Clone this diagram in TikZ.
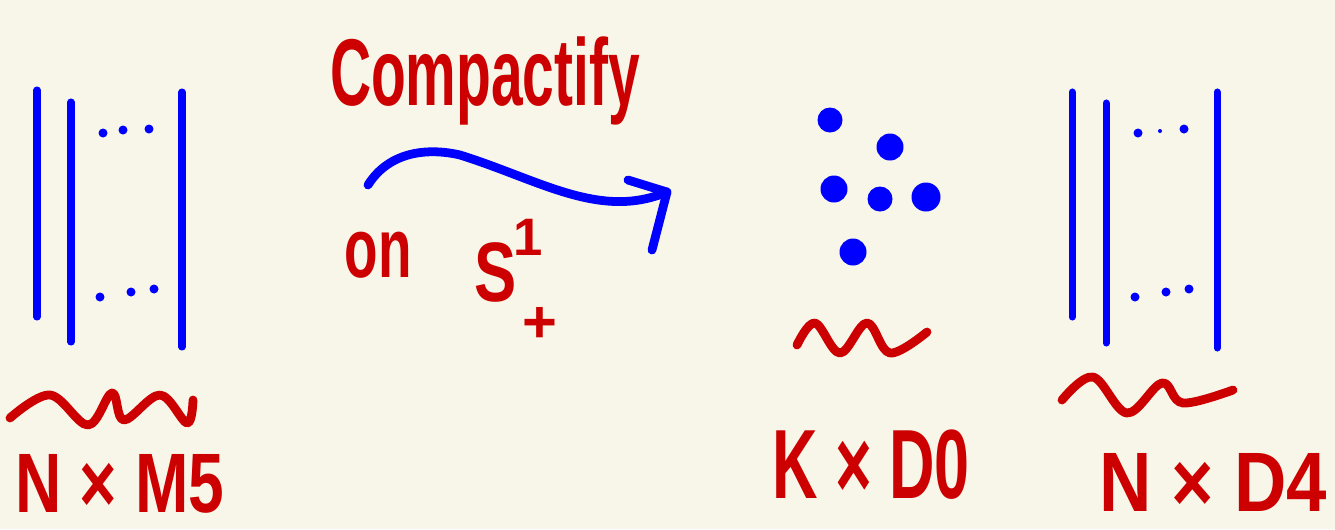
\documentclass[tikz,border=0pt]{standalone}
\usepackage{fontspec}
\usepackage{graphicx}
\newfontfamily\handfont{Liberation Sans}
\definecolor{paper}{RGB}{248,245,233}
\definecolor{inkred}{RGB}{204,0,0}
\definecolor{inkblue}{RGB}{0,0,255}

\begin{document}
\begin{tikzpicture}[
    x=0.02cm, y=-0.02cm,
    brane/.style={inkblue, line width=4pt, line cap=round},
    squiggle/.style={inkred, line width=5pt, line cap=round, line join=round},
    arrowline/.style={inkblue, line width=5pt, line cap=round, line join=round},
    lbl/.style={text=inkred, inner sep=0pt, font=\handfont\bfseries\fontsize{48}{52}\selectfont},
]
    % Paper
    \fill[paper] (0,0) rectangle (1335,529);
    \useasboundingbox (0,0) rectangle (1335,529);

    % N x M5 stack
    \draw[brane] (37,90) -- (37,317);
    \draw[brane] (71,102) -- (71,342);
    \draw[brane] (182,92) -- (182,347);
    \foreach \px/\py in {103/133, 123/130, 149/129, 100/297, 131/292, 154/289} {
        \fill[inkblue] (\px,\py) circle[radius=0.09cm];
    }
    \draw[squiggle] plot[smooth, tension=0.6] coordinates {(10,418) (50,395) (88,425) (112,393) (124,420) (160,395) (187,423) (193,400)};
    \node[lbl] (mfive) at (120,484) {\scalebox{0.76}[1]{N × M5}};

    % Compactify arrow
    \node[lbl, font=\handfont\bfseries\fontsize{54}{58}\selectfont] (title) at (485,81) {\scalebox{0.6}[1]{Compactify}};
    \coordinate (arrowstart) at (368,185);
    \coordinate (arrowtip) at (667,192);
    \coordinate (barbup) at (628,180);
    \coordinate (barbdown) at (652,250);
    \draw[arrowline] (arrowstart) .. controls (390,150) and (430,148) .. (460,155)
        .. controls (540,180) and (600,220) .. (arrowtip);
    \draw[arrowline] (barbup) -- (arrowtip) -- (barbdown);
    \node[lbl] (on) at (378,255) {\scalebox{0.65}[1]{on}};
    \node[lbl] (circ) at (496,272) {\scalebox{0.75}[1]{S}};
    \node[lbl, font=\handfont\bfseries\fontsize{30}{34}\selectfont] (circsup) at (528,237) {1};
    \node[lbl, font=\handfont\bfseries\fontsize{34}{38}\selectfont] (circsub) at (540,325) {+};

    % K x D0 cloud
    \foreach \px/\py/\r in {830/120/0.25cm, 890/147/0.27cm, 834/189/0.27cm, 880/199/0.25cm, 926/197/0.29cm, 853/252/0.27cm} {
        \fill[inkblue] (\px,\py) circle[radius=\r];
    }
    \draw[squiggle] plot[smooth, tension=0.6] coordinates {(797,345) (815,323) (840,353) (867,323) (890,353) (927,332)};
    \node[lbl, font=\handfont\bfseries\fontsize{56}{60}\selectfont] (dzero) at (871,465) {\scalebox{0.64}[1]{K × D0}};

    % N x D4 stack
    \draw[brane] (1072,92) -- (1072,317);
    \draw[brane] (1106,103) -- (1106,343);
    \draw[brane] (1217,92) -- (1217,348);
    \foreach \px/\py/\r in {1138/133/0.09cm, 1160/131/0.04cm, 1184/129/0.09cm, 1135/297/0.09cm, 1166/292/0.09cm, 1189/289/0.09cm} {
        \fill[inkblue] (\px,\py) circle[radius=\r];
    }
    \draw[squiggle] plot[smooth, tension=0.6] coordinates {(1062,400) (1093,377) (1127,413) (1162,383) (1183,403) (1233,390)};
    \node[lbl] (dfour) at (1213,482) {\scalebox{0.86}[1]{N × D4}};
\end{tikzpicture}
\end{document}
